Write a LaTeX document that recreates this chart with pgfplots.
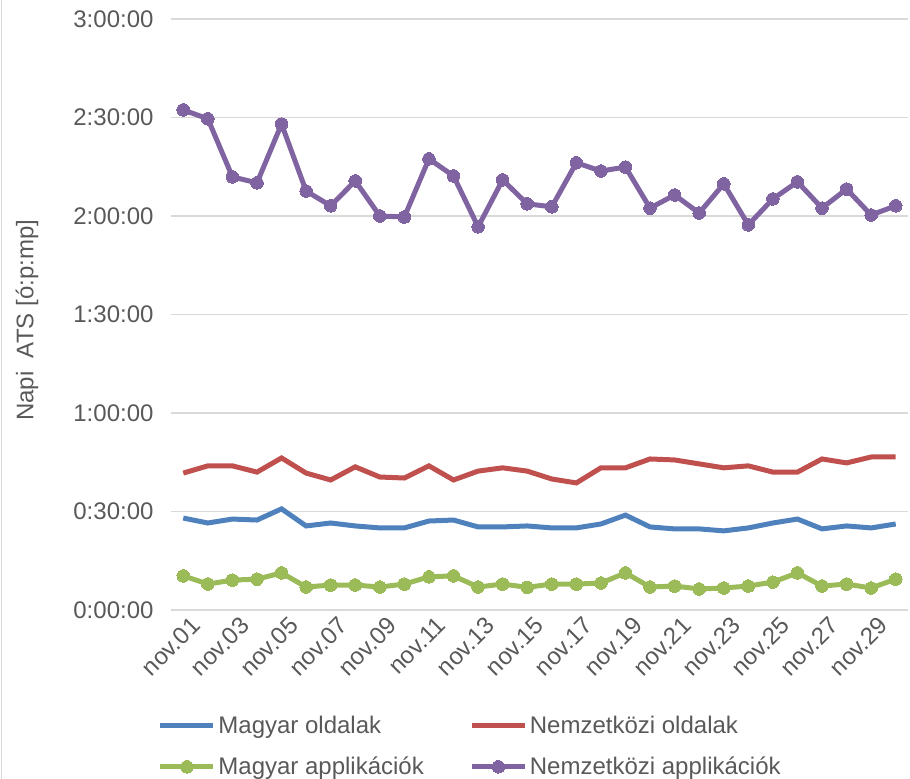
\documentclass[border=0pt]{standalone}
\usepackage{pgfplots}
\pgfplotsset{compat=1.18}
\usepackage{fontspec}
\setmainfont{Liberation Sans}
\definecolor{cBlue}{HTML}{4F81BD}
\definecolor{cRed}{HTML}{C0504D}
\definecolor{cGreen}{HTML}{9BBB59}
\definecolor{cPurple}{HTML}{8064A2}
\definecolor{cGrid}{HTML}{D9D9D9}
\definecolor{cText}{HTML}{595959}
\begin{document}
\begin{tikzpicture}
\useasboundingbox (0,0) rectangle (910bp,779bp);
\draw[cGrid, line width=1.5bp] (1.5bp,0) -- (1.5bp,779bp);
\begin{axis}[
  at={(171bp,169bp)}, anchor=south west,
  scale only axis, width=737bp, height=591bp,
  xmin=0.5, xmax=30.5, ymin=0, ymax=180,
  axis line style={draw=none},
  major tick length=0pt,
  ymajorgrids, grid style={cGrid, line width=1.3bp},
  ytick={0,30,60,90,120,150,180},
  yticklabels={0:00:00,0:30:00,1:00:00,1:30:00,2:00:00,2:30:00,3:00:00},
  xtick={1,3,...,29},
  xticklabels={nov.01,nov.03,nov.05,nov.07,nov.09,nov.11,nov.13,nov.15,nov.17,nov.19,nov.21,nov.23,nov.25,nov.27,nov.29},
  tick label style={font=\fontsize{24bp}{28bp}\selectfont, text=cText},
  yticklabel style={xshift=-14bp},
  xticklabel style={rotate=45, anchor=north east, xshift=4bp, yshift=-5bp},
  ylabel={Napi\ \ ATS [ó:p:mp]},
  ylabel style={at={(axis description cs:-0.1954,0.49)}, anchor=center, font=\fontsize{24bp}{28bp}\selectfont, text=cText},
  legend columns=2,
  legend cell align=left,
  legend style={at={(axis description cs:-0.022,-0.172)}, anchor=north west, draw=none, fill=none,
    font=\fontsize{24bp}{28bp}\selectfont, text=cText, row sep=17bp,
    nodes={inner sep=2.5bp},
    /tikz/every even column/.append style={column sep=43bp}},
  legend image code/.code={\draw[mark repeat=2,mark phase=2,#1] plot coordinates {(0bp,0bp) (26.5bp,0bp) (53bp,0bp)};},
  every axis plot/.append style={line width=5bp},
]
\addplot[cBlue, no markers] coordinates {
(1,28.0)(2,26.5)(3,27.7)(4,27.4)(5,30.8)(6,25.6)(7,26.5)(8,25.6)(9,25.0)(10,25.0)
(11,27.1)(12,27.4)(13,25.3)(14,25.3)(15,25.6)(16,25.0)(17,25.0)(18,26.2)(19,28.9)(20,25.3)
(21,24.7)(22,24.7)(23,24.1)(24,25.0)(25,26.5)(26,27.7)(27,24.7)(28,25.6)(29,25.0)(30,26.2)};
\addlegendentry{Magyar oldalak}
\addplot[cRed, no markers] coordinates {
(1,41.7)(2,43.9)(3,43.9)(4,42.0)(5,46.3)(6,41.7)(7,39.6)(8,43.6)(9,40.5)(10,40.2)
(11,43.9)(12,39.6)(13,42.3)(14,43.3)(15,42.3)(16,39.9)(17,38.7)(18,43.3)(19,43.3)(20,46.0)
(21,45.7)(22,44.5)(23,43.3)(24,43.9)(25,42.0)(26,42.0)(27,46.0)(28,44.8)(29,46.6)(30,46.6)};
\addlegendentry{Nemzetközi oldalak}
\addplot[cGreen, mark=*, mark size=6.3bp, mark options={fill=cGreen, draw=cGreen, line width=0pt}] coordinates {
(1,10.4)(2,7.9)(3,9.1)(4,9.4)(5,11.3)(6,7.0)(7,7.6)(8,7.6)(9,7.0)(10,7.9)
(11,10.1)(12,10.4)(13,7.0)(14,7.9)(15,6.9)(16,7.9)(17,7.9)(18,8.2)(19,11.3)(20,7.0)
(21,7.3)(22,6.4)(23,6.7)(24,7.3)(25,8.5)(26,11.3)(27,7.3)(28,7.9)(29,6.7)(30,9.4)};
\addlegendentry{Magyar applikációk}
\addplot[cPurple, mark=*, mark size=6.3bp, mark options={fill=cPurple, draw=cPurple, line width=0pt}] coordinates {
(1,152.3)(2,149.6)(3,131.9)(4,130.1)(5,148.0)(6,127.6)(7,123.1)(8,130.7)(9,120.0)(10,119.7)
(11,137.4)(12,132.2)(13,116.7)(14,131.0)(15,123.7)(16,122.8)(17,136.2)(18,133.7)(19,134.9)(20,122.4)
(21,126.4)(22,120.9)(23,129.8)(24,117.3)(25,125.2)(26,130.4)(27,122.4)(28,128.2)(29,120.3)(30,123.1)};
\addlegendentry{Nemzetközi applikációk}
\end{axis}
\end{tikzpicture}
\end{document}
